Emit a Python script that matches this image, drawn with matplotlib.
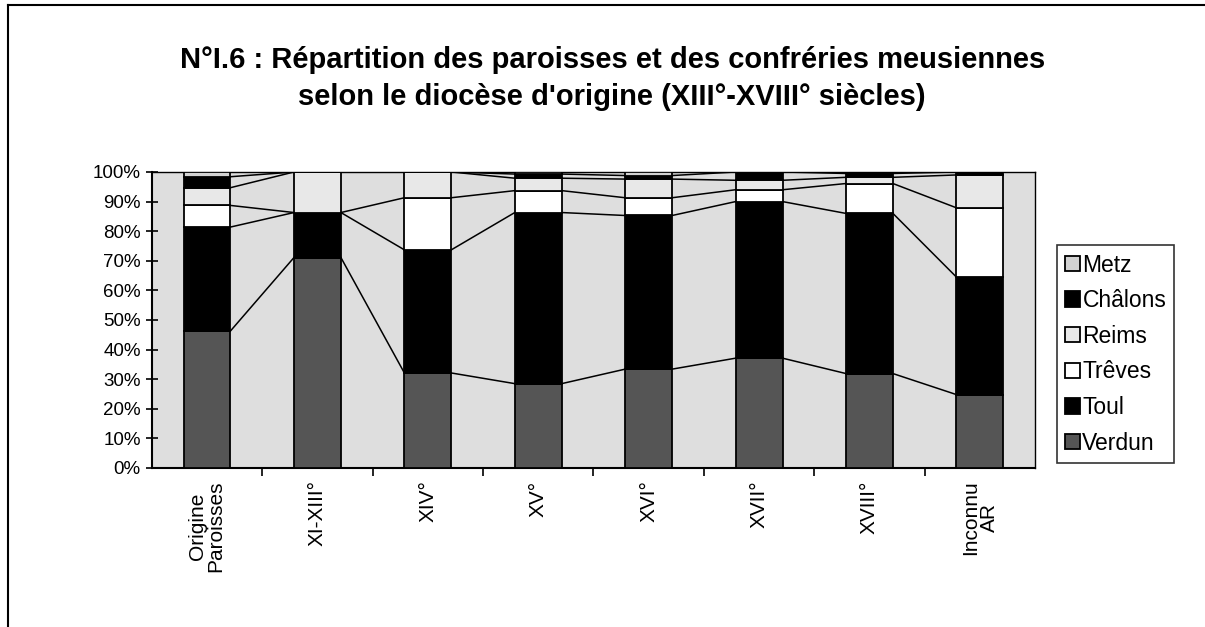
import numpy as np
import matplotlib.pyplot as plt
from matplotlib.lines import Line2D

plt.rcParams['font.family'] = ['Liberation Sans', 'DejaVu Sans']

categories = ['Origine\nParoisses', 'XI-XIII°', 'XIV°', 'XV°', 'XVI°', 'XVII°', 'XVIII°', 'Inconnu\nAR']
verdun = [46.3, 71.1, 32.1, 28.5, 33.4, 37.1, 31.9, 24.8]
toul = [35.1, 15.2, 41.6, 57.8, 51.9, 52.9, 54.1, 39.7]
treves = [7.3, 0.0, 17.6, 7.4, 6.0, 4.0, 10.1, 23.4]
reims = [6.0, 13.7, 8.7, 4.2, 6.3, 3.2, 2.1, 11.1]
chalons = [3.7, 0.0, 0.0, 1.4, 1.2, 2.8, 1.3, 1.0]
metz = [1.6, 0.0, 0.0, 0.7, 1.2, 0.0, 0.5, 0.0]

series = [('Verdun', verdun, '#555555'),
          ('Toul', toul, '#000000'),
          ('Trêves', treves, '#ffffff'),
          ('Reims', reims, '#e8e8e8'),
          ('Châlons', chalons, '#000000'),
          ('Metz', metz, '#d2d2d2')]

fig = plt.figure(figsize=(12.05, 6.27), dpi=100)
ax = fig.add_axes([0.126, 0.2536, 0.733, 0.4721])
ax.set_facecolor('#dedede')

x = np.arange(len(categories))
w = 0.425
bottom = np.zeros(len(categories))
for name, vals, col in series:
    vals = np.array(vals)
    ax.bar(x, vals, w, bottom=bottom, color=col, edgecolor='black',
           linewidth=1.3, label=name, zorder=3)
    top = bottom + vals
    # series lines between neighbouring bars
    for i in range(len(x) - 1):
        ax.plot([x[i] + w / 2, x[i + 1] - w / 2], [top[i], top[i + 1]],
                color='black', lw=1.1, zorder=2)
    bottom = top

ax.set_xlim(-0.5, len(categories) - 0.5)
ax.set_ylim(0, 100)
ax.set_yticks(np.arange(0, 101, 10))
ax.set_yticklabels([f'{v}%' for v in range(0, 101, 10)], fontsize=13.5)
ax.tick_params(axis='y', direction='inout', length=9, width=1.2)

ax.set_xticks(x)
ax.set_xticklabels(categories, rotation=90, fontsize=15, linespacing=0.95,
                   va='top')
ax.tick_params(axis='x', which='major', length=0, pad=9)
ax.set_xticks(np.arange(0.5, len(categories) - 1, 1), minor=True)
ax.tick_params(axis='x', which='minor', direction='out', length=6, width=1.2)

for s in ax.spines.values():
    s.set_linewidth(1.0)
ax.spines['left'].set_linewidth(1.5)
ax.spines['bottom'].set_linewidth(1.5)

handles, labels = ax.get_legend_handles_labels()
leg = ax.legend(handles[::-1], labels[::-1], loc='center left',
                bbox_to_anchor=(1.025, 0.385), fontsize=16.5, frameon=True,
                fancybox=False, edgecolor='black', handlelength=0.65,
                handleheight=0.65, handletextpad=0.1, labelspacing=0.55,
                borderpad=0.35, borderaxespad=0)
leg.get_frame().set_linewidth(1.2)

fig.text(0.508, 0.905, "N°I.6 : Répartition des paroisses et des confréries meusiennes",
         ha='center', va='center', fontsize=21, fontweight='bold')
fig.text(0.508, 0.845, "selon le diocèse d'origine (XIII°-XVIII° siècles)",
         ha='center', va='center', fontsize=21, fontweight='bold')

# outer chart frame
fig.add_artist(Line2D([0.007, 1.0], [0.992, 0.992], color='black', lw=1.5))
fig.add_artist(Line2D([0.007, 0.007], [0.0, 0.992], color='black', lw=1.5))

fig.savefig('out.png', dpi=100)
